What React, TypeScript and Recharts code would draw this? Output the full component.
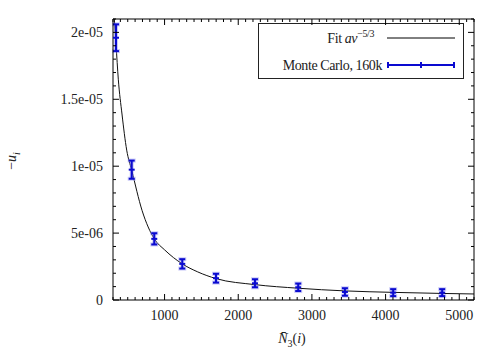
import { ComposedChart, ErrorBar, Label, Line, Scatter, XAxis, YAxis } from 'recharts';

const FONT = "'Liberation Serif', 'Times New Roman', serif";
const BLUE = '#0a0ad0';

// Monte Carlo points (volume, -u_i, error)
const mcVolume = [341, 554, 860, 1240, 1698, 2227, 2814, 3448, 4103, 4768];
const mcEnergy = [19.6e-6, 9.74e-6, 4.57e-6, 2.7e-6, 1.63e-6, 1.25e-6, 0.95e-6, 0.6e-6, 0.55e-6, 0.55e-6];
const mcError = [1.0e-6, 0.68e-6, 0.42e-6, 0.35e-6, 0.33e-6, 0.3e-6, 0.28e-6, 0.28e-6, 0.26e-6, 0.26e-6];

// fit curve
const fitVolume = [318, 341, 372, 422, 486, 554, 694, 860, 1000, 1240, 1450, 1698, 2227, 2814, 3448, 4103, 4768, 5200];
const fitEnergy = [
  21.0e-6, 19.1e-6, 16.5e-6, 13.9e-6, 11.2e-6, 9.7e-6, 6.7e-6, 4.57e-6, 3.75e-6, 2.7e-6, 2.1e-6, 1.6e-6, 1.15e-6,
  0.88e-6, 0.68e-6, 0.57e-6, 0.49e-6, 0.45e-6,
];

const xTicks = [1000, 2000, 3000, 4000, 5000];
const xTickLabels = ['1000', '2000', '3000', '4000', '5000'];
const yTicks = [0, 5e-6, 1e-5, 1.5e-5, 2e-5];
const yTickLabels = ['0', '5e-06', '1e-05', '1.5e-05', '2e-05'];

const X_DOMAIN: [number, number] = [300, 5200];
const Y_DOMAIN: [number, number] = [0, 2.1e-5];

const xMinor: number[] = [];
for (let v = 300; v <= 5200; v += 100) xMinor.push(v);
const yMinor: number[] = [];
for (let k = 0; k <= 21; k++) yMinor.push(k * 1e-6);

const mcData = mcVolume.map((x, i) => ({ x, y: mcEnergy[i], err: mcError[i] }));
const fitData = fitVolume.map((x, i) => ({ x, y: fitEnergy[i] }));

const xMajorIndex = (v: number) => xTicks.findIndex((t) => Math.abs(t - v) < 1);
const yMajorIndex = (v: number) => yTicks.findIndex((t) => Math.abs(t - v) < 1e-9);

const textStyle = { fontFamily: FONT, fontSize: 14, fill: '#222' };
const legendText = { fontFamily: FONT, fontSize: 14, fill: '#222', letterSpacing: -0.4 };

function BottomTick({ x, y, payload }: any) {
  const i = xMajorIndex(payload.value);
  return (
    <g>
      <line x1={x} x2={x} y1={y} y2={y - (i >= 0 ? 6 : 3)} stroke="#000" />
      {i >= 0 && (
        <text x={x} y={y + 20} textAnchor="middle" style={textStyle}>
          {xTickLabels[i]}
        </text>
      )}
    </g>
  );
}

function TopTick({ x, y, payload }: any) {
  const i = xMajorIndex(payload.value);
  return <line x1={x} x2={x} y1={y} y2={y + (i >= 0 ? 6 : 3)} stroke="#000" />;
}

function LeftTick({ x, y, payload }: any) {
  const i = yMajorIndex(payload.value);
  return (
    <g>
      <line x1={x} x2={x + (i >= 0 ? 6 : 3)} y1={y} y2={y} stroke="#000" />
      {i >= 0 && (
        <text x={x - 10} y={y + 5} textAnchor="end" style={textStyle}>
          {yTickLabels[i]}
        </text>
      )}
    </g>
  );
}

function RightTick({ x, y, payload }: any) {
  const i = yMajorIndex(payload.value);
  return <line x1={x} x2={x - (i >= 0 ? 6 : 3)} y1={y} y2={y} stroke="#000" />;
}

function PointMark({ cx, cy }: any) {
  return <line x1={cx - 3} x2={cx + 3} y1={cy} y2={cy} stroke={BLUE} strokeWidth={2} />;
}

const NoMark = () => null;

const XTitle = () => (
  <text x={292} y={343} textAnchor="middle" style={textStyle}>
    <tspan fontStyle="italic">N̄</tspan>
    <tspan fontSize={10} dy={4}>3</tspan>
    <tspan dy={-4}>(</tspan>
    <tspan fontStyle="italic">i</tspan>
    <tspan>)</tspan>
  </text>
);

const YTitle = () => (
  <text x={0} y={0} transform="translate(16,161) rotate(-90)" textAnchor="middle" style={textStyle}>
    <tspan>−</tspan>
    <tspan fontStyle="italic">u</tspan>
    <tspan fontStyle="italic" fontSize={10} dy={4}>i</tspan>
  </text>
);

const LegendBox = () => (
  <g>
    <rect x={258.5} y={23.5} width={205} height={55} fill="#fff" stroke="#222" />
    <text x={374} y={43} textAnchor="end" style={legendText}>
      <tspan>Fit </tspan>
      <tspan fontStyle="italic">av</tspan>
      <tspan fontSize={10} dy={-6}>−5/3</tspan>
    </text>
    <line x1={387} x2={455} y1={38} y2={38} stroke="#000" />
    <text x={382} y={70} textAnchor="end" style={legendText}>
      Monte Carlo, 160k
    </text>
    <line x1={387} x2={455} y1={65} y2={65} stroke={BLUE} strokeWidth={2} />
    <line x1={388} x2={388} y1={62} y2={68} stroke={BLUE} strokeWidth={2} />
    <line x1={421} x2={421} y1={62} y2={68} stroke={BLUE} strokeWidth={2} />
    <line x1={454} x2={454} y1={62} y2={68} stroke={BLUE} strokeWidth={2} />
  </g>
);

export default function App() {
  return (
    <div style={{ position: 'absolute', left: 0, top: 0, background: '#fff', fontFamily: FONT }}>
      <ComposedChart width={503} height={353} margin={{ top: 18, right: 28, bottom: 0, left: 0 }}>
        <XAxis
          dataKey="x"
          type="number"
          domain={X_DOMAIN}
          allowDataOverflow
          ticks={xMinor}
          interval={0}
          tickSize={0}
          tickMargin={0}
          height={53}
          stroke="#000"
          tick={<BottomTick />}
        >
          <Label content={<XTitle />} />
        </XAxis>
        <XAxis
          xAxisId="top"
          dataKey="x"
          orientation="top"
          type="number"
          domain={X_DOMAIN}
          allowDataOverflow
          ticks={xMinor}
          interval={0}
          tickSize={0}
          tickMargin={0}
          height={1}
          stroke="#000"
          tick={<TopTick />}
        />
        <YAxis
          type="number"
          domain={Y_DOMAIN}
          allowDataOverflow
          ticks={yMinor}
          interval={0}
          tickSize={0}
          tickMargin={0}
          width={113}
          stroke="#000"
          tick={<LeftTick />}
        >
          <Label content={<YTitle />} />
        </YAxis>
        <YAxis
          yAxisId="right"
          orientation="right"
          type="number"
          domain={Y_DOMAIN}
          allowDataOverflow
          ticks={yMinor}
          interval={0}
          tickSize={0}
          tickMargin={0}
          width={1}
          stroke="#000"
          tick={<RightTick />}
        />
        <Line
          data={fitData}
          dataKey="y"
          type="monotone"
          stroke="#111"
          strokeWidth={1}
          dot={false}
          activeDot={false}
          isAnimationActive={false}
        />
        <Scatter data={mcData} dataKey="y" shape={<PointMark />} isAnimationActive={false}>
          <ErrorBar dataKey="err" direction="y" width={4} stroke="#8c8cf0" strokeWidth={4} strokeOpacity={0.45} isAnimationActive={false} />
          <ErrorBar dataKey="err" direction="y" width={3} stroke={BLUE} strokeWidth={2} isAnimationActive={false} />
        </Scatter>
        <Scatter
          data={mcData}
          dataKey="y"
          xAxisId="top"
          yAxisId="right"
          shape={<NoMark />}
          legendType="none"
          isAnimationActive={false}
        >
          <Label content={<LegendBox />} />
        </Scatter>
      </ComposedChart>
    </div>
  );
}
